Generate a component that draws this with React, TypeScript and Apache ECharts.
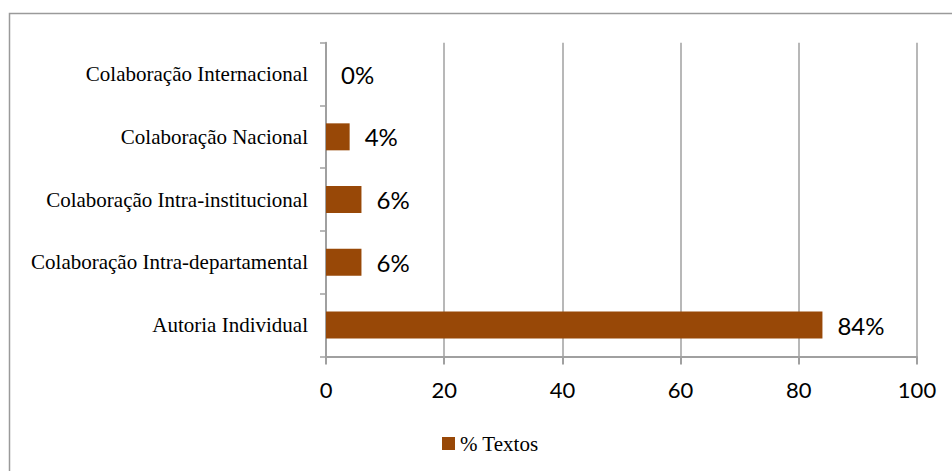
import React, { useEffect, useRef } from "react";
import * as echarts from "echarts";

const categories = [
  "Colaboração Internacional",
  "Colaboração Nacional",
  "Colaboração Intra-institucional",
  "Colaboração Intra-departamental",
  "Autoria Individual",
];
const values = [0, 4, 6, 6, 84];
const seriesName = "% Textos";
const xTicks = { min: 0, max: 100, interval: 20 };

export default function App() {
  const ref = useRef<HTMLDivElement>(null);
  useEffect(() => {
    if (!ref.current) return;
    const chart = echarts.init(ref.current, null, { renderer: "svg" });
    const gray = "#a0a0a0";
    chart.setOption({
      animation: false,
      backgroundColor: "#ffffff",
      graphic: [
        {
          type: "rect",
          shape: { x: 9.5, y: 13.5, width: 1000, height: 500 },
          style: { fill: "none", stroke: "#9a9a9a", lineWidth: 1.5 },
          silent: true,
        },
      ],
      grid: { left: 326, right: 35, top: 42.7, bottom: 114.5, containLabel: false },
      legend: {
        data: [seriesName],
        left: 437,
        top: 428,
        itemWidth: 13,
        itemHeight: 13,
        icon: "rect",
        textStyle: { fontFamily: "Liberation Serif", fontSize: 21, color: "#000" },
      },
      xAxis: {
        type: "value",
        min: xTicks.min,
        max: xTicks.max,
        interval: xTicks.interval,
        axisLine: { show: true, lineStyle: { color: gray, width: 2 } },
        axisTick: { show: true, length: 8, lineStyle: { color: gray, width: 2 } },
        splitLine: { show: true, lineStyle: { color: gray, width: 1.5 } },
        axisLabel: { fontFamily: "Lato", fontSize: 22, color: "#000", margin: 22 },
      },
      yAxis: {
        type: "category",
        data: categories,
        inverse: true,
        axisLine: { show: true, lineStyle: { color: gray, width: 2 } },
        axisTick: { show: true, length: 6, lineStyle: { color: gray, width: 1.5 } },
        axisLabel: {
          fontFamily: "Liberation Serif",
          fontSize: 21,
          color: "#000",
          margin: 18,
        },
      },
      series: [
        {
          name: seriesName,
          type: "bar",
          data: values,
          barWidth: 27,
          itemStyle: { color: "#984807" },
          label: {
            show: true,
            position: "right",
            distance: 15,
            formatter: "{c}%",
            fontFamily: "Lato",
            fontSize: 24,
            color: "#000",
          },
        },
      ],
    });
    return () => chart.dispose();
  }, []);
  return (
    <div
      ref={ref}
      style={{ position: "fixed", left: 0, top: 0, width: 952, height: 471 }}
    />
  );
}
